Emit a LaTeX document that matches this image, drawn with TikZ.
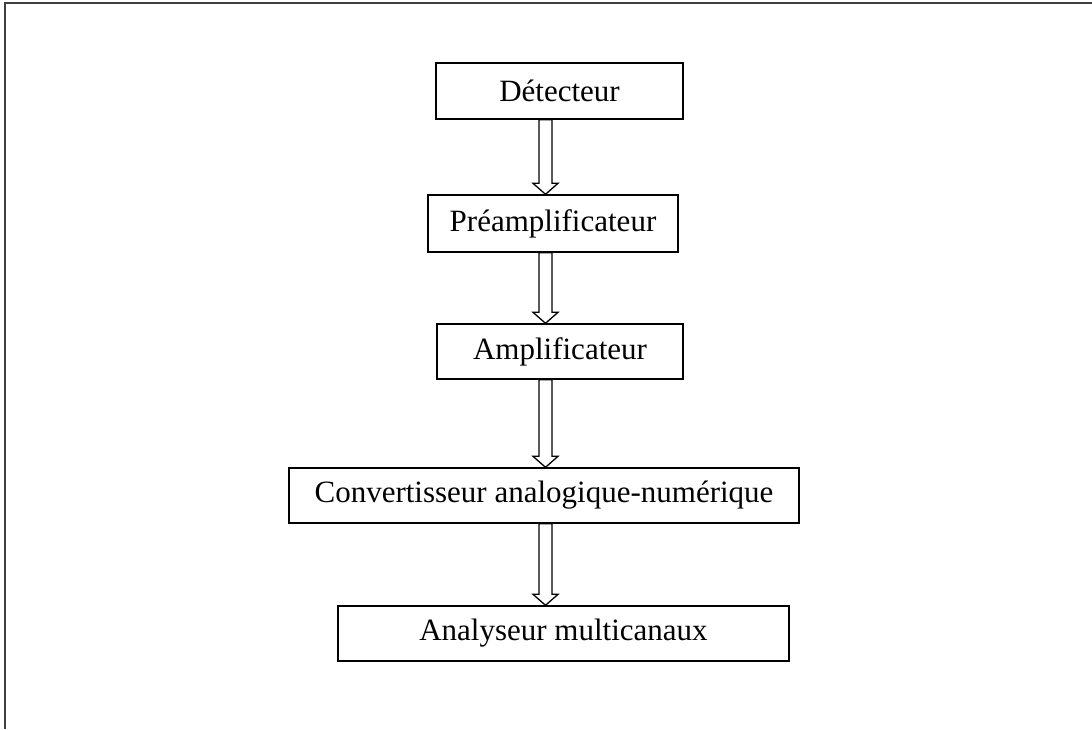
\documentclass[tikz,border=0pt]{standalone}
\usepackage{fontspec}
\setmainfont{Liberation Serif}
\usetikzlibrary{calc}
\tikzset{
  blk/.style={draw=black, line width=1.4pt, rectangle, inner sep=0pt, align=center,
              font=\fontsize{31}{36}\selectfont, text=black},
  hollowarrow/.style={draw=black, line width=1.3pt, fill=white, line join=miter},
  frameline/.style={draw=black!75, line width=2.6pt}
}
\newcommand{\flowarrow}[2]{%
  \path[hollowarrow] let \p1=(#1.south), \p2=(#2.north) in
    (539,\y1) -- (539,\y2+11) -- (533,\y2+11) -- (545.5,\y2) -- (558,\y2+11)
    -- (552,\y2+11) -- (552,\y1) -- cycle;}
\begin{document}
\begin{tikzpicture}[x=1pt,y=-1pt]
\useasboundingbox (0,0) rectangle (1092,729);
\coordinate (fb) at (5,729);
\coordinate (fc) at (5,3);
\coordinate (fr) at (1092,3);
\draw[frameline] (fb) -- (fc) -- (fr);

\node[blk, minimum width=247pt, minimum height=56pt] (det) at (559.5,91) {Détecteur};
\node[blk, minimum width=250pt, minimum height=57pt] (pre) at (553,223.5) {Préamplificateur};
\node[blk, minimum width=246pt, minimum height=55pt] (amp) at (560,351.5) {Amplificateur};
\node[blk, minimum width=510pt, minimum height=55pt] (can) at (544,495.5) {Convertisseur analogique-numérique};
\node[blk, minimum width=451pt, minimum height=55pt] (ana) at (563.5,633.5) {Analyseur multicanaux};

\flowarrow{det}{pre}
\flowarrow{pre}{amp}
\flowarrow{amp}{can}
\flowarrow{can}{ana}
\end{tikzpicture}
\end{document}
